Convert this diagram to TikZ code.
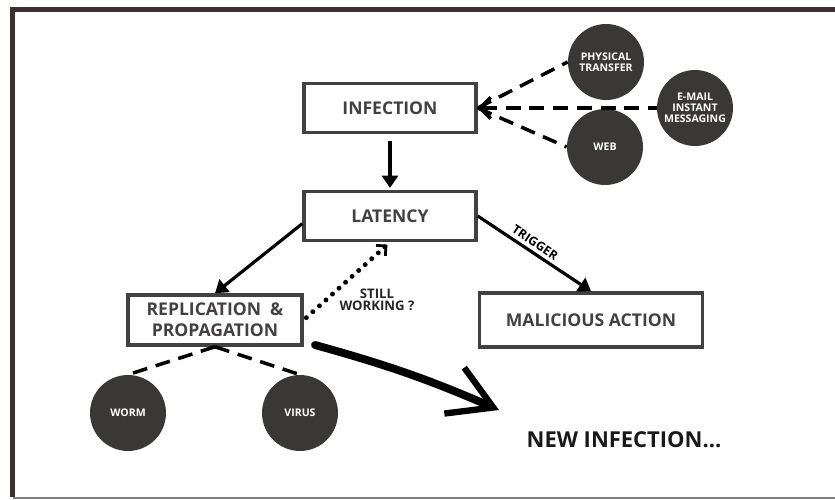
\documentclass[tikz,border=0pt]{standalone}
\usepackage{fontspec}
\setmainfont{Open Sans}
\usetikzlibrary{arrows.meta}

\definecolor{boxgray}{RGB}{66,64,64}
\definecolor{discgray}{RGB}{58,55,55}
\definecolor{framegray}{RGB}{62,48,50}

\tikzset{
  flow/.style={line width=1.8pt,-{Triangle[length=7pt,width=9pt]}},
  link/.style={line width=2pt,dash pattern=on 8.5pt off 5pt},
  poll/.style={line width=2.8pt,dash pattern=on 0.01pt off 5pt,line cap=round,
    -{Straight Barb[length=4pt,width=8pt,line width=1.6pt]}},
}

\begin{document}
\begin{tikzpicture}[x=0.02cm,y=-0.02cm,font=\bfseries]
  \useasboundingbox (0,0) rectangle (835,500);
  % frame
  \draw[framegray,line width=2.8pt] (12.5,497) -- (12.5,9.5) -- (835,9.5);
  \draw[gray,line width=1pt] (12.5,498) -- (835,498);

  \begin{scope}[every node/.style={rectangle,draw=boxgray,line width=2pt,text=boxgray,
      minimum width=3.44cm,minimum height=0.98cm,inner sep=2pt,align=center,
      font=\fontsize{10}{12}\selectfont\bfseries}]
    \node (inf) at (390,108) {INFECTION};
    \node (lat) at (390,216) {LATENCY};
    \node (rep) at (215,320) [minimum width=3.48cm,minimum height=1cm] {REPLICATION\ \ \&\\PROPAGATION};
    \node (mal) at (591,320) [minimum width=4.46cm,minimum height=1.08cm] {MALICIOUS ACTION};
  \end{scope}

  \begin{scope}[every node/.style={circle,fill=discgray,text=white,minimum size=1.52cm,
      inner sep=0pt,align=center,font=\fontsize{6}{6.4}\selectfont\bfseries}]
    \node (phys) at (606,62) {PHYSICAL\\TRANSFER};
    \node (mail) at (695,108) {E-MAIL\\INSTANT\\MESSAGING};
    \node (web) at (605,147) {WEB};
    \node (worm) at (128,413) {WORM};
    \node (virus) at (300,413) {VIRUS};
  \end{scope}

  \node (still) at (377,300) [align=center,text=black!85,font=\fontsize{7.5}{6.9}\selectfont\bfseries] {STILL\\WORKING ?};
  \node (newinf) at (624,440) [text=black!90,font=\fontsize{12.5}{14}\selectfont\bfseries] {NEW INFECTION...};
  \coordinate (newstart) at (315,345);
  \coordinate (newend) at (499,410);

  \draw (inf) edge [flow,shorten <=4pt,shorten >=1pt] (lat);
  \draw (lat.185) edge [flow] (rep.north);
  \draw (lat.east) edge [flow] node[sloped,above,pos=0.46,inner sep=2pt,font=\fontsize{7}{8}\selectfont\bfseries] {TRIGGER} (mal.north);
  \draw (rep.east) edge [poll,shorten <=2pt,shorten >=2pt] (lat.south);

  \draw (inf.east) edge [link] (phys.west);
  \draw (inf.east) edge [link,{Straight Barb[length=6pt,width=12pt,line width=2pt]}-] (mail.west);
  \draw (inf.east) edge [link] (web.west);
  \draw (rep.south) edge [link] (worm.north);
  \draw (rep.south) edge [link] (virus.north);

  \draw[line width=4.5pt,line cap=round,
    -{Straight Barb[length=0.85cm,width=1cm,line width=3.6pt]}]
    (newstart) to[bend left=4] (newend);
\end{tikzpicture}
\end{document}
